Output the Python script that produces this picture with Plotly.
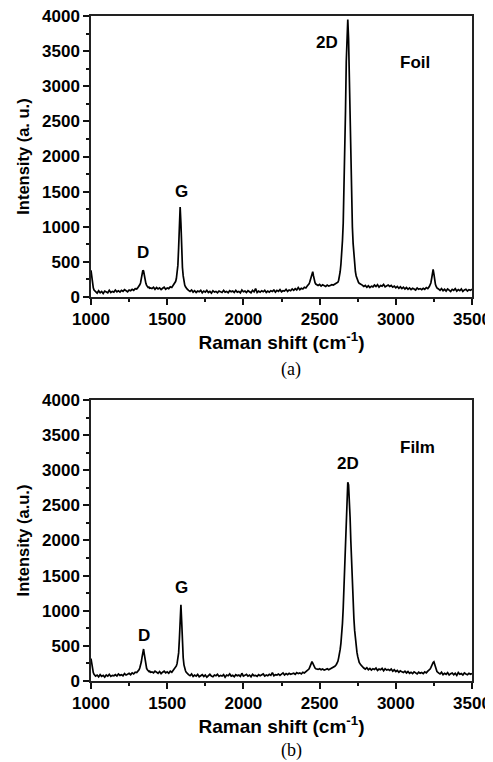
import plotly.graph_objects as go

# Sampling grid of Raman shift (cm^-1): finer steps around the peaks
wavenumber = ([1000, 1005, 1010, 1015, 1020] + list(range(1030, 1301, 10))
              + list(range(1305, 1391, 5)) + list(range(1400, 1551, 10))
              + list(range(1555, 1626, 5)) + list(range(1630, 2421, 10))
              + list(range(2425, 2481, 5)) + list(range(2490, 2621, 10))
              + list(range(2625, 2761, 5)) + list(range(2770, 3221, 10))
              + list(range(3225, 3271, 5)) + list(range(3280, 3501, 10)))

# (a) Foil intensities
foil_intensity = [
    380, 260, 180, 130, 100, 75, 55, 90, 60, 80, 50, 85, 70, 60, 95, 65, 80, 70, 100, 75,
    90, 70, 95, 80, 105, 85, 75, 100, 90, 110, 95, 120, 115,
    125, 140, 150, 175, 200, 250, 310, 380, 370, 300, 240, 195, 165, 150, 135, 140, 125, 130,
    120, 140, 110, 135, 115, 130, 105, 125, 140, 110, 130, 120, 145, 135, 165, 195,
    220, 260, 330, 450, 700, 1100, 1280, 1050, 650, 420, 300, 220, 170, 145, 120,
    115, 95, 80, 100, 70, 90, 65, 85, 75, 95,
    60, 85, 70, 95, 65, 80, 55, 90, 70, 80,
    60, 85, 75, 65, 95, 70, 80, 60, 90, 75,
    85, 65, 95, 70, 80, 60, 100, 75, 85, 65,
    90, 70, 60, 95, 75, 120, 65, 85, 70, 90,
    75, 95, 65, 85, 70, 90, 80, 100, 70, 95,
    80, 105, 75, 90, 85, 110, 80, 100, 90, 115,
    95, 120, 100, 135, 105, 125, 115, 140, 130, 160,
    170, 185, 210, 250, 300, 350, 360, 300, 240, 205, 185, 175,
    165, 180, 155, 175, 160, 150, 170, 155, 165, 175, 170, 185, 195, 210,
    240, 290, 360, 470, 600, 800, 1050, 1450, 2000, 2650, 3350, 3820, 3950, 3680,
    3050, 2400, 1750, 1300, 1000, 760, 580, 450, 360, 300, 260, 230, 210, 195,
    185, 170, 150, 165, 140, 160, 135, 155, 145, 170,
    150, 175, 140, 165, 155, 180, 145, 160, 170, 150,
    165, 140, 155, 130, 150, 125, 145, 120, 140, 115,
    135, 110, 130, 105, 125, 115, 100, 130, 110, 120,
    105, 125, 110, 135, 120, 150,
    170, 200, 260, 340, 395, 330, 240, 180, 150, 130,
    115, 95, 120, 90, 110, 85, 115, 100, 80, 110, 95, 120, 85, 105, 90, 115, 80, 100,
    110, 85, 105, 95, 110,
]

# (b) Film intensities
film_intensity = [
    320, 230, 160, 120, 95, 70, 85, 60, 90, 65, 80, 55, 85, 70, 95, 65, 80, 75, 90, 70,
    100, 80, 90, 75, 105, 85, 95, 110, 90, 115, 100, 125, 120,
    130, 145, 160, 185, 215, 270, 340, 420, 455, 380, 290, 225, 180, 160, 145, 135, 140, 125,
    130, 115, 140, 120, 110, 135, 105, 125, 140, 115, 130, 110, 140, 125, 150, 175,
    190, 215, 250, 300, 400, 600, 900, 1085, 850, 520, 330, 230, 175, 145, 125,
    110, 90, 75, 100, 65, 85, 70, 95, 60, 80,
    90, 65, 85, 55, 80, 95, 70, 60, 85, 75,
    95, 65, 80, 70, 90, 55, 85, 75, 100, 70,
    80, 60, 90, 75, 85, 65, 110, 70, 80, 95,
    70, 85, 60, 95, 75, 80, 65, 90, 75, 85,
    100, 70, 85, 75, 95, 80, 120, 75, 90, 85,
    100, 80, 95, 115, 85, 105, 90, 110, 95, 100,
    110, 95, 120, 105, 115, 100, 125, 115, 130, 145,
    155, 170, 195, 230, 260, 275, 255, 225, 200, 185, 175, 170,
    165, 175, 160, 170, 155, 165, 175, 160, 170, 180, 190, 210, 235, 280,
    330, 380, 450, 540, 660, 820, 1040, 1330, 1680, 2050, 2400, 2680, 2830, 2790,
    2620, 2330, 1990, 1650, 1360, 1100, 890, 720, 590, 490, 410, 350, 300, 265,
    230, 200, 185, 170, 190, 160, 180, 155, 175, 165,
    185, 150, 170, 160, 180, 145, 175, 155, 165, 150,
    170, 140, 160, 135, 150, 125, 145, 130, 120, 140,
    115, 135, 110, 125, 105, 130, 115, 100, 125, 110,
    120, 105, 130, 115, 140, 155,
    170, 190, 220, 250, 265, 275, 240, 190, 155, 135,
    115, 100, 125, 90, 110, 95, 120, 85, 105, 115, 90, 110, 80, 120, 95, 105, 85, 115,
    100, 90, 110, 95, 105,
]

assert len(foil_intensity) == len(wavenumber), (len(foil_intensity), len(wavenumber))
assert len(film_intensity) == len(wavenumber), (len(film_intensity), len(wavenumber))

peak_labels = ["D", "G", "2D"]
foil_label_pos = [(1343, 628), (1592, 1500), (2551, 3620)]
film_label_pos = [(1345, 654), (1597, 1337), (2684, 3090)]
foil_sample = ("Foil", 3129, 3338)
film_sample = ("Film", 3141, 3329)
x_range = [1000, 3500]
y_range = [0, 4000]

SANS = "Liberation Sans, Arial, sans-serif"
SERIF = "Liberation Serif, Times New Roman, serif"

fig = go.Figure()
fig.add_trace(go.Scatter(x=wavenumber, y=foil_intensity, mode="lines",
                         line=dict(color="black", width=1.7), xaxis="x", yaxis="y",
                         showlegend=False))
fig.add_trace(go.Scatter(x=wavenumber, y=film_intensity, mode="lines",
                         line=dict(color="black", width=1.7), xaxis="x2", yaxis="y2",
                         showlegend=False))

def xaxis_style(anchor):
    return dict(
        domain=[0, 1], anchor=anchor, range=x_range, tick0=1000, dtick=500,
        ticks="outside", ticklen=6, tickwidth=1.5, tickcolor="#111",
        minor=dict(dtick=250, ticks="outside", ticklen=3.5, tickwidth=1.5, tickcolor="#111"),
        showline=True, linecolor="#222", linewidth=1.5, mirror=True,
        showgrid=False, zeroline=False, ticklabeloverflow="allow",
        tickfont=dict(family=SANS, size=17, color="black", weight="bold"),
        title=dict(text="Raman shift (cm<sup>-1</sup>)", standoff=4,
                   font=dict(family=SANS, size=19, color="black", weight="bold")),
    )

def yaxis_style(anchor, domain, title):
    return dict(
        domain=domain, anchor=anchor, range=y_range, tick0=0, dtick=500,
        ticks="outside", ticklen=6, tickwidth=1.5, tickcolor="#111",
        minor=dict(dtick=250, ticks="outside", ticklen=3.5, tickwidth=1.5, tickcolor="#111"),
        showline=True, linecolor="#222", linewidth=1.5, mirror=True,
        showgrid=False, zeroline=False, ticklabeloverflow="allow",
        tickfont=dict(family=SANS, size=17, color="black", weight="bold"),
        title=dict(text=title, standoff=8,
                   font=dict(family=SANS, size=16.5, color="black", weight="bold")),
    )

label_font = dict(family=SANS, size=17, color="black", weight="bold")
annotations = []
for lab, (px, py) in zip(peak_labels, foil_label_pos):
    annotations.append(dict(x=px, y=py, xref="x", yref="y", text=lab, showarrow=False,
                            font=label_font))
for lab, (px, py) in zip(peak_labels, film_label_pos):
    annotations.append(dict(x=px, y=py, xref="x2", yref="y2", text=lab, showarrow=False,
                            font=label_font))
annotations.append(dict(x=foil_sample[1], y=foil_sample[2], xref="x", yref="y",
                        text=foil_sample[0], showarrow=False, font=label_font))
annotations.append(dict(x=film_sample[1], y=film_sample[2], xref="x2", yref="y2",
                        text=film_sample[0], showarrow=False, font=label_font))
annotations.append(dict(x=0.525, y=0.4677, xref="paper", yref="paper", text="(a)",
                        showarrow=False, yanchor="middle",
                        font=dict(family=SERIF, size=18, color="black")))
annotations.append(dict(x=0.525, y=-0.1038, xref="paper", yref="paper", text="(b)",
                        showarrow=False, yanchor="middle",
                        font=dict(family=SERIF, size=18, color="black")))

# The page body adds an 8 px margin, so the figure starts 8 px in from the window edge
fig.update_layout(
    width=485, height=754,
    margin=dict(l=83, r=21, t=8, b=81, autoexpand=False),
    paper_bgcolor="white", plot_bgcolor="white",
    xaxis=xaxis_style("y"),
    yaxis=yaxis_style("x", [0.5774, 1], "Intensity (a. u.)"),
    xaxis2=xaxis_style("y2"),
    yaxis2=yaxis_style("x2", [0, 0.4226], "Intensity (a.u.)"),
    annotations=annotations,
    showlegend=False,
)

fig.write_html("out.html")
